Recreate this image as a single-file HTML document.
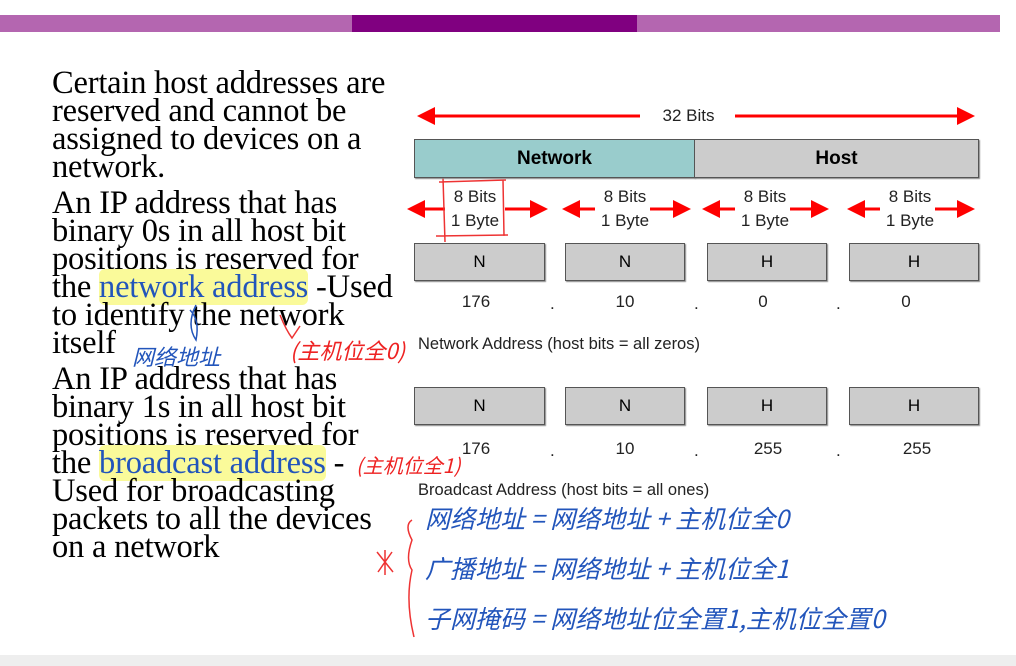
<!DOCTYPE html>
<html><head><meta charset="utf-8"><style>
body{margin:0;width:1016px;height:666px;background:#fff;position:relative;overflow:hidden;font-family:"Liberation Sans",sans-serif}
.a{position:absolute}
.t{position:absolute;left:52px;font-family:"Liberation Serif",serif;font-size:32.5px;line-height:28px;color:#000;white-space:nowrap;letter-spacing:-0.2px}
.box{position:absolute;background:#ccc;border:1px solid #555;box-sizing:border-box;text-align:center;font-size:17px;line-height:36px;box-shadow:1px 1px 1px #888}
.n{position:absolute;font-size:17px;color:#222;text-align:center}
.hl{background:#fafa9a;color:#2255bb;border-radius:6px}
.hw{position:absolute;font-family:"Noto Sans CJK SC",sans-serif;font-style:italic;white-space:nowrap}
</style></head><body>
<div class="a" style="left:0;top:15px;width:1000px;height:17px;background:#b466b0"></div>
<div class="a" style="left:352px;top:15px;width:285px;height:17px;background:#800080"></div>
<div class="a" style="left:0;top:655px;width:1016px;height:11px;background:#eee"></div>

<div class="t" style="top:69px">Certain host addresses are<br>reserved and cannot be<br>assigned to devices on a<br>network.</div>
<div class="t" style="top:189px">An IP address that has<br>binary 0s in all host bit<br>positions is reserved for<br>the <span class="hl">network address</span> -Used<br>to identify the network<br>itself</div>
<div class="t" style="top:365px">An IP address that has<br>binary 1s in all host bit<br>positions is reserved for<br>the <span class="hl">broadcast address</span> -<br>Used for broadcasting<br>packets to all the devices<br>on a network</div>

<svg class="a" style="left:0;top:0" width="1016" height="666">
<defs><marker id="ar" markerWidth="6" markerHeight="6" refX="5" refY="3" orient="auto"><path d="M0,0L6,3L0,6z" fill="#f00"/></marker></defs>
<g stroke="#f00" stroke-width="3" fill="none" marker-end="url(#ar)">
<line x1="640" y1="116" x2="420" y2="116"/><line x1="735" y1="116" x2="972" y2="116"/>
<line x1="445" y1="209" x2="410" y2="209"/><line x1="505" y1="209" x2="545" y2="209"/>
<line x1="595" y1="209" x2="565" y2="209"/><line x1="650" y1="209" x2="688" y2="209"/>
<line x1="735" y1="209" x2="705" y2="209"/><line x1="790" y1="209" x2="826" y2="209"/>
<line x1="880" y1="209" x2="850" y2="209"/><line x1="935" y1="209" x2="972" y2="209"/>
</g>
<g stroke="#e33" stroke-width="1.5" fill="none">
<path d="M439,182 L506,180 M443,178 L445,242 M503,180 L504,236 M436,236 L508,235"/>
<path d="M412,520 Q404,525 412,540 Q405,560 412,570 Q405,600 414,637"/>
<path d="M377,552 L393,572 M392,552 L378,572 M385,550 L385,575"/>
<path d="M280,315 Q286,330 292,338 L300,326"/>
</g>
<path d="M196,305 Q186,325 196,340 Q200,320 190,310" stroke="#2255bb" stroke-width="1.5" fill="none"/>
</svg>
<div class="n" style="left:641px;top:106px;width:95px">32 Bits</div>
<div class="box" style="left:414px;top:139px;width:281px;height:39px;background:#99cccc;font-weight:bold;font-size:19px;line-height:37px">Network</div>
<div class="box" style="left:694px;top:139px;width:285px;height:39px;font-weight:bold;font-size:19px;line-height:37px">Host</div>
<div class="n" style="left:435px;top:185px;width:80px;line-height:24px">8 Bits<br>1 Byte</div>
<div class="n" style="left:585px;top:185px;width:80px;line-height:24px">8 Bits<br>1 Byte</div>
<div class="n" style="left:725px;top:185px;width:80px;line-height:24px">8 Bits<br>1 Byte</div>
<div class="n" style="left:870px;top:185px;width:80px;line-height:24px">8 Bits<br>1 Byte</div>
<div class="box" style="left:414px;top:243px;width:131px;height:38px">N</div>
<div class="box" style="left:565px;top:243px;width:120px;height:38px">N</div>
<div class="box" style="left:707px;top:243px;width:120px;height:38px">H</div>
<div class="box" style="left:849px;top:243px;width:130px;height:38px">H</div>
<div class="n" style="left:446px;top:292px;width:60px">176</div>
<div class="n" style="left:595px;top:292px;width:60px">10</div>
<div class="n" style="left:733px;top:292px;width:60px">0</div>
<div class="n" style="left:876px;top:292px;width:60px">0</div>
<div class="n" style="left:550px;top:294px">.</div><div class="n" style="left:694px;top:294px">.</div><div class="n" style="left:836px;top:294px">.</div>
<div class="n" style="left:418px;top:335px;font-size:16.5px">Network Address (host bits = all zeros)</div>
<div class="box" style="left:414px;top:387px;width:131px;height:38px">N</div>
<div class="box" style="left:565px;top:387px;width:120px;height:38px">N</div>
<div class="box" style="left:707px;top:387px;width:120px;height:38px">H</div>
<div class="box" style="left:849px;top:387px;width:130px;height:38px">H</div>
<div class="n" style="left:446px;top:439px;width:60px">176</div>
<div class="n" style="left:595px;top:439px;width:60px">10</div>
<div class="n" style="left:738px;top:439px;width:60px">255</div>
<div class="n" style="left:887px;top:439px;width:60px">255</div>
<div class="n" style="left:550px;top:441px">.</div><div class="n" style="left:694px;top:441px">.</div><div class="n" style="left:836px;top:441px">.</div>
<div class="n" style="left:418px;top:481px;font-size:16.5px">Broadcast Address (host bits = all ones)</div>

<div class="hw" style="left:132px;top:340px;color:#2255bb;font-size:22px">网络地址</div>
<div class="hw" style="left:290px;top:334px;color:#e22;font-size:22px">(主机位全0)</div>
<div class="hw" style="left:356px;top:450px;color:#e22;font-size:20px">(主机位全1)</div>
<div class="hw" style="left:425px;top:500px;color:#2255bb;font-size:25px">网络地址 = 网络地址 + 主机位全0</div>
<div class="hw" style="left:425px;top:550px;color:#2255bb;font-size:25px">广播地址 = 网络地址 + 主机位全1</div>
<div class="hw" style="left:425px;top:600px;color:#2255bb;font-size:25px">子网掩码 = 网络地址位全置1,主机位全置0</div>
</body></html>
